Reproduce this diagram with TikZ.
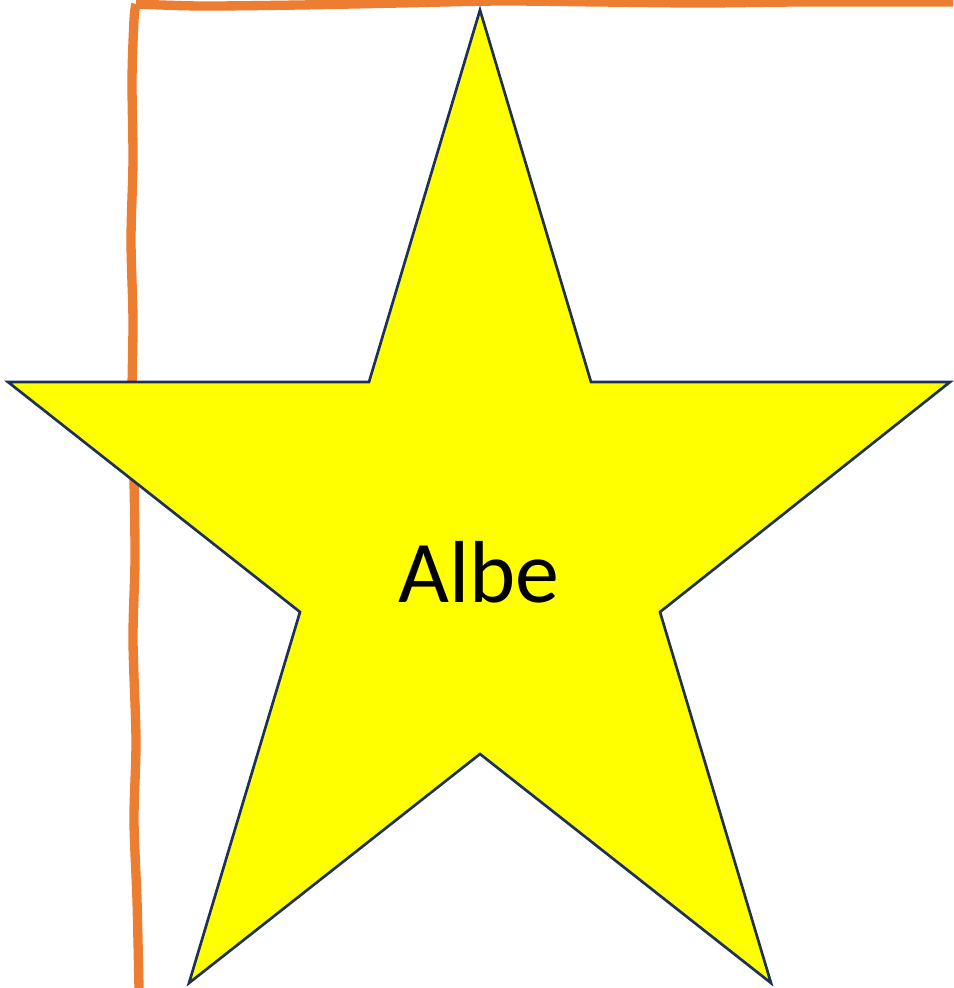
\documentclass[tikz,border=0pt]{standalone}
\usepackage{fontspec}
\setmainfont{Carlito}
\usetikzlibrary{calc}
\definecolor{bordo}{HTML}{ED7D31}
\definecolor{contorno}{HTML}{1F3056}
\definecolor{giallo}{HTML}{FFFF00}
\begin{document}
\begin{tikzpicture}[x=0.75pt,y=-0.75pt]
  \useasboundingbox (0,0) rectangle (953,988);

  % cornice
  \draw[bordo,line width=7pt,line join=round]
    plot[smooth] coordinates {
      (139,988) (137,900) (134,820) (136,740) (133,640)
      (135,560) (134,480) (132,400) (133,320) (131,240)
      (133,160) (132,80) (134,20) (136,4)
    }
    plot[smooth] coordinates {
      (136,4) (200,6) (300,5) (400,3) (500,1)
      (600,2) (700,3) (800,2) (953,2)
    };

  % stella
  \coordinate (T) at (480,10);
  \coordinate (A) at (591,382);
  \coordinate (R) at (950,382);
  \coordinate (B) at (660,612);
  \coordinate (DR) at (771,983);
  \coordinate (M) at (480,754);
  \coordinate (DL) at (189,983);
  \coordinate (C) at (300,612);
  \coordinate (L) at (8,382);
  \coordinate (D) at (369,382);

  \filldraw[fill=giallo,draw=contorno,line width=2pt,line join=miter]
    (T) -- (A) -- (R) -- (B) -- (DR) -- (M) -- (DL) -- (C) -- (L) -- (D) -- cycle;

  % testo
  \node (nome) at (479,572) {\fontsize{66}{70}\selectfont Albe};
\end{tikzpicture}
\end{document}
